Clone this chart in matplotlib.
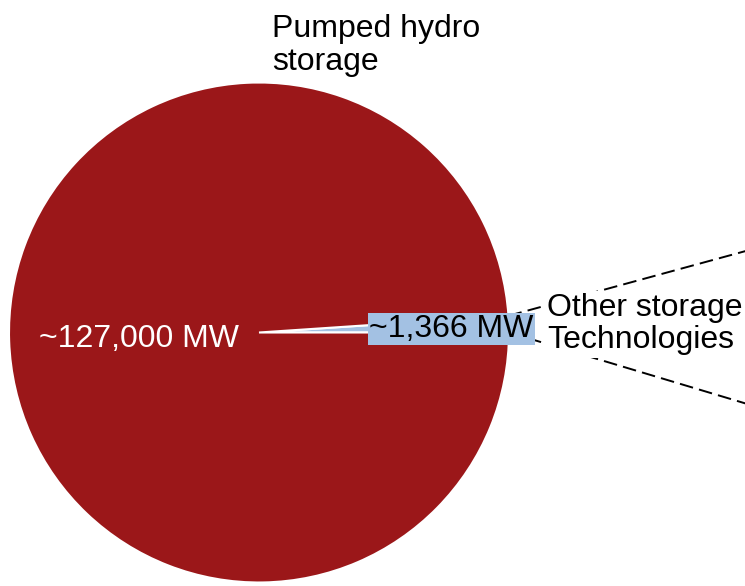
import numpy as np
import matplotlib
matplotlib.use("Agg")
import matplotlib.pyplot as plt

plt.rcParams['font.family'] = ['Liberation Sans', 'DejaVu Sans']

# Data
categories = ["Other storage\nTechnologies", "Pumped hydro\nstorage"]
values_mw = [1366, 127000]
value_labels = ["~1,366 MW", "~127,000 MW"]
colors = ["#A3C1E3", "#9B1719"]

fig = plt.figure(figsize=(7.45, 5.86), dpi=100)
ax = fig.add_axes([0, 0, 1, 1])

wedges, _ = ax.pie(values_mw, colors=colors, startangle=0, counterclock=True,
                   wedgeprops=dict(edgecolor="white", linewidth=1.5))

ax.set_aspect('auto')
ax.set_xlim(-1.036, 1.944)
ax.set_ylim(-1.014, 1.33)
ax.axis('off')

# connection lines from the small wedge edges (towards an off-figure detail)
frac = values_mw[0] / sum(values_mw)
theta2 = 2 * np.pi * frac
p_top = (np.cos(theta2), np.sin(theta2))
p_bot = (1.0, 0.0)
far_x = 2.3
top_slope = 0.273
bot_slope = -0.300
for (x0, y0), s in [(p_top, top_slope), (p_bot, bot_slope)]:
    line, = ax.plot([x0, far_x], [y0, y0 + s * (far_x - x0)], color="black",
                    lw=1.4, zorder=3, clip_on=True)
    line.set_dashes((7.0, 3.2))

FS = 23
# labels
ax.text(0.054, 1.05, categories[1], fontsize=FS, ha="left", va="baseline",
        color="black", linespacing=1.15, zorder=5)
ax.text(1.152, -0.063, categories[0], fontsize=FS, ha="left", va="baseline",
        color="black", linespacing=1.08, zorder=5,
        bbox=dict(boxstyle="square,pad=0.08", facecolor="white", edgecolor="none"))
ax.text(-0.48, -0.057, value_labels[1], fontsize=FS, ha="center", va="baseline",
        color="white", zorder=5)
ax.text(0.77, -0.017, value_labels[0], fontsize=FS, ha="center", va="baseline",
        color="black", zorder=6,
        bbox=dict(boxstyle="square,pad=0.03", facecolor=colors[0], edgecolor="none"))

fig.savefig("out.png", dpi=100)
